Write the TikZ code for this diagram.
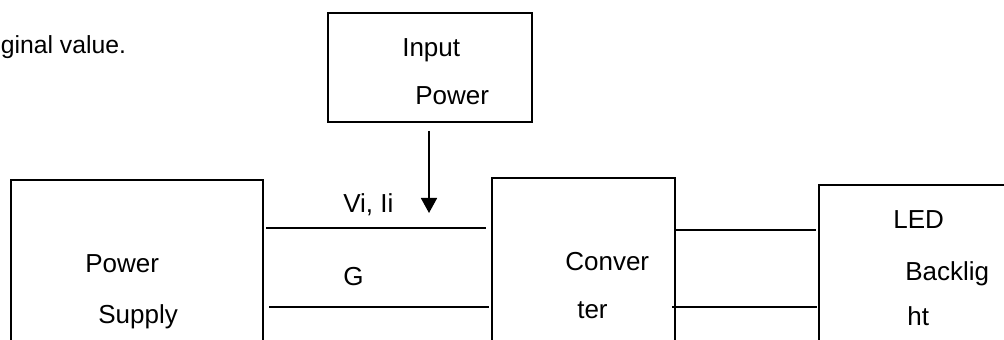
\documentclass[tikz,border=0pt]{standalone}
\usepackage{fontspec}
\setmainfont{Liberation Sans}
\usetikzlibrary{arrows.meta}

\tikzset{
  blk/.style={draw, line width=1.2pt, rectangle, inner sep=0pt, anchor=north west},
  lbl/.style={inner sep=0pt, anchor=base west, font=\fontsize{18.5}{22}\selectfont},
  wire/.style={line width=1.2pt}
}

\begin{document}
\begin{tikzpicture}[x=0.025cm, y=-0.025cm]
		%%%%% START %%%%%
		\useasboundingbox (0, 0) rectangle (1004, 340);
		\clip (0, 0) rectangle (1004, 340);
		
		\node[lbl, font=\fontsize{17.6}{22}\selectfont] (note) at (0.5, 54) {ginal value.};
		
		\node[blk, minimum width=5.1cm, minimum height=2.725cm] (inp) at (327, 12) {};
		\node[lbl] (inp1) at (402, 57) {Input};
		\node[lbl] (inp2) at (415, 105) {Power};
		
		\node[blk, minimum width=6.3cm, minimum height=5cm] (psu) at (10, 179) {};
		\node[lbl] (psu1) at (85, 272) {Power};
		\node[lbl] (psu2) at (98, 323) {Supply};
		
		\node[blk, minimum width=4.575cm, minimum height=5cm] (conv) at (491, 177) {};
		\node[lbl] (conv1) at (565, 270) {Conver};
		\node[lbl] (conv2) at (577, 318) {ter};
		
		\node[blk, minimum width=4.8cm, minimum height=5cm] (led) at (818, 184) {};
		\node[lbl] (led1) at (893, 229) {LED};
		\node[lbl] (led2) at (905, 280) {Backlig};
		\node[lbl] (led3) at (907, 325) {ht};
		
		% input arrow
		\coordinate (arrA) at (429, 131);
		\coordinate (arrB) at (429, 213);
		\draw[wire, -{Triangle[length=0.375cm, width=0.4cm]}] (arrA) -- (arrB);
		
		% supply to converter
		\coordinate (viA) at (266, 228);
		\coordinate (viB) at (486, 228);
		\draw[wire] (viA) -- (viB);
		\node[lbl] (vi) at (343, 213) {Vi, Ii};
		
		\coordinate (gA) at (269, 307);
		\coordinate (gB) at (489, 307);
		\draw[wire] (gA) -- (gB);
		\node[lbl] (gnd) at (343, 285) {G};
		
		% converter to backlight
		\coordinate (oA) at (674, 230);
		\coordinate (oB) at (816, 230);
		\draw[wire] (oA) -- (oB);
		
		\coordinate (rA) at (672, 307);
		\coordinate (rB) at (817, 307);
		\draw[wire] (rA) -- (rB);
		%%%%% END %%%%%
\end{tikzpicture}
\end{document}
